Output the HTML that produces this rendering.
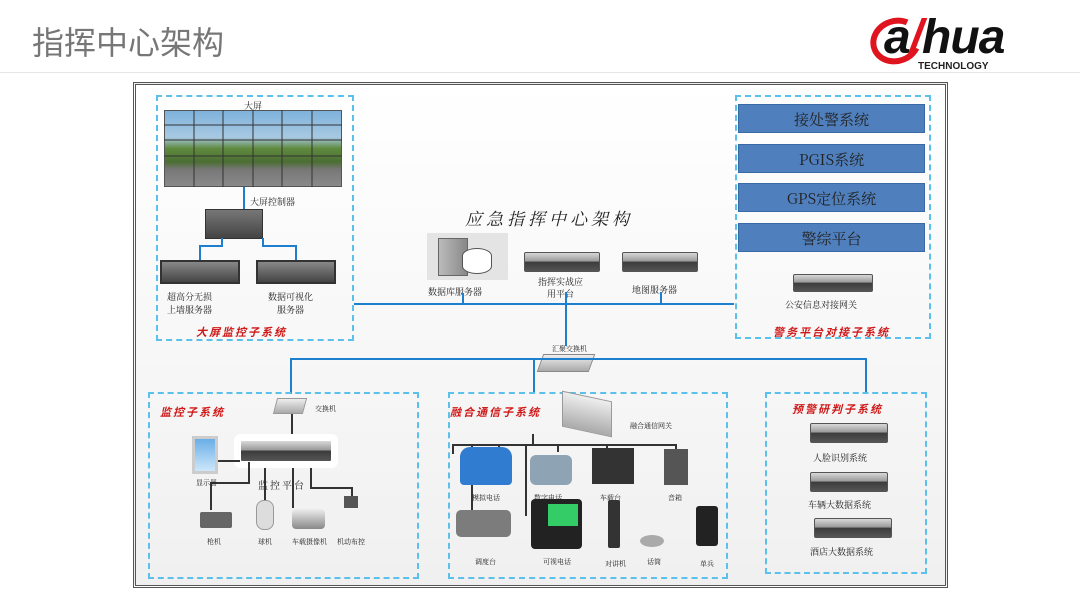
<!DOCTYPE html>
<html><head><meta charset="utf-8">
<style>
*{margin:0;padding:0;box-sizing:border-box}
body{width:1080px;height:608px;background:#fff;position:relative;overflow:hidden;font-family:"Liberation Sans","Noto Sans CJK SC",sans-serif}
.a{position:absolute}
.t{position:absolute;font-size:9px;color:#222;white-space:nowrap;font-family:"Noto Serif CJK SC","Noto Sans CJK SC",serif}
.r{position:absolute;font-size:11px;color:#d01818;font-weight:bold;white-space:nowrap;font-style:italic;letter-spacing:2px}
.dash{position:absolute;border:2px dashed #5bc0ea}
.ln{position:absolute;background:#1f7fcf}
.k{position:absolute;background:#333}
.srv{position:absolute;background:linear-gradient(#d8d8d8,#9a9a9a 45%,#3c3c3c 50%,#555);border-radius:2px;border:1px solid #555}
.bar{position:absolute;left:738px;width:187px;height:29px;background:#4f7fbd;color:#222;font-size:15px;text-align:center;line-height:29px;border:1px solid #3a6aa5;font-family:"Noto Serif CJK SC",serif}
</style></head><body>
<div class="a" style="left:32px;top:18px;font-size:32px;color:#777;font-family:'Noto Sans CJK SC',sans-serif">指挥中心架构</div>
<div class="a" style="left:0;top:72px;width:1080px;height:1px;background:#e6e6e6"></div>
<!-- logo -->
<div class="a" style="left:870px;top:18px;width:52px;height:46px;border:6px solid #e0141e;border-radius:50%;border-right-color:transparent;transform:rotate(-20deg)"></div>
<div class="a" style="left:884px;top:10px;font-size:48px;font-weight:bold;font-style:italic;color:#111;letter-spacing:-1px">a<span style="color:#e0141e">/</span>hua</div>
<div class="a" style="left:918px;top:61px;font-size:10px;font-weight:bold;color:#222">TECHNOLOGY</div>
<!-- frame -->
<div class="a" style="left:133px;top:82px;width:815px;height:506px;border:3px double #555;background:linear-gradient(#fff,#f0f0f0)"></div>

<!-- top-left box -->
<div class="dash" style="left:156px;top:95px;width:198px;height:246px"></div>
<div class="t" style="left:244px;top:99px">大屏</div>
<div class="a" style="left:164px;top:110px;width:178px;height:77px;border:1px solid #555;background:linear-gradient(#7eb2dc 0%,#a8c9e2 35%,#5f8a3e 50%,#4b6e33 68%,#777 78%,#8a8a8a 100%)"></div>
<svg class="a" style="left:164px;top:110px" width="178" height="77"><g stroke="#333" stroke-width="1"><line x1="30" y1="0" x2="30" y2="77"/><line x1="59" y1="0" x2="59" y2="77"/><line x1="89" y1="0" x2="89" y2="77"/><line x1="118" y1="0" x2="118" y2="77"/><line x1="148" y1="0" x2="148" y2="77"/><line x1="0" y1="15" x2="178" y2="15"/><line x1="0" y1="30" x2="178" y2="30"/><line x1="0" y1="46" x2="178" y2="46"/></g></svg>
<div class="ln" style="left:243px;top:187px;width:2px;height:22px"></div>
<div class="t" style="left:250px;top:195px">大屏控制器</div>
<div class="a" style="left:205px;top:209px;width:58px;height:30px;background:linear-gradient(#777,#444);border:1px solid #333"></div>
<div class="ln" style="left:221px;top:238px;width:2px;height:7px"></div><div class="ln" style="left:199px;top:245px;width:24px;height:2px"></div><div class="ln" style="left:199px;top:245px;width:2px;height:15px"></div>
<div class="ln" style="left:262px;top:238px;width:2px;height:7px"></div><div class="ln" style="left:262px;top:245px;width:35px;height:2px"></div><div class="ln" style="left:295px;top:245px;width:2px;height:15px"></div>
<div class="a" style="left:160px;top:260px;width:80px;height:24px;background:linear-gradient(#888,#444);border:2px solid #333"></div>
<div class="a" style="left:256px;top:260px;width:80px;height:24px;background:linear-gradient(#888,#444);border:2px solid #333"></div>
<div class="t" style="left:167px;top:290px;line-height:13px">超高分无损<br>上墙服务器</div>
<div class="t" style="left:268px;top:290px;line-height:13px;text-align:center">数据可视化<br>服务器</div>
<div class="r" style="left:196px;top:324px">大屏监控子系统</div>

<!-- center -->
<div class="a" style="left:465px;top:205px;font-size:17px;letter-spacing:4px;font-style:italic;font-family:'Noto Serif CJK SC',serif;color:#222">应急指挥中心架构</div>
<div class="a" style="left:427px;top:233px;width:81px;height:47px;background:#e4e4e4"></div>
<div class="a" style="left:438px;top:238px;width:30px;height:38px;background:linear-gradient(90deg,#bbb,#888);border:1px solid #666"></div>
<div class="a" style="left:462px;top:248px;width:30px;height:26px;border:1px solid #555;border-radius:50%/30%;background:#fff"></div>
<div class="t" style="left:428px;top:285px">数据库服务器</div>
<div class="srv" style="left:524px;top:252px;width:76px;height:20px"></div>
<div class="t" style="left:538px;top:276px;line-height:12px;text-align:center">指挥实战应<br>用平台</div>
<div class="srv" style="left:622px;top:252px;width:76px;height:20px"></div>
<div class="t" style="left:632px;top:283px">地图服务器</div>
<div class="ln" style="left:354px;top:303px;width:380px;height:2px"></div>
<div class="ln" style="left:462px;top:293px;width:2px;height:11px"></div>
<div class="ln" style="left:565px;top:292px;width:2px;height:54px"></div>
<div class="ln" style="left:660px;top:292px;width:2px;height:12px"></div>
<div class="t" style="left:552px;top:344px;font-size:7px">汇聚交换机</div>
<div class="a" style="left:540px;top:354px;width:52px;height:18px;background:linear-gradient(#eee,#aaa);border:1px solid #888;transform:skewX(-20deg)"></div>
<div class="ln" style="left:290px;top:358px;width:576px;height:2px"></div>
<div class="ln" style="left:290px;top:358px;width:2px;height:36px"></div>
<div class="ln" style="left:533px;top:358px;width:2px;height:36px"></div>
<div class="ln" style="left:865px;top:358px;width:2px;height:36px"></div>

<!-- right top -->
<div class="dash" style="left:735px;top:95px;width:196px;height:244px"></div>
<div class="bar" style="top:104px">接处警系统</div>
<div class="bar" style="top:144px">PGIS系统</div>
<div class="bar" style="top:183px">GPS定位系统</div>
<div class="bar" style="top:223px">警综平台</div>
<div class="srv" style="left:793px;top:274px;width:80px;height:18px"></div>
<div class="t" style="left:785px;top:298px">公安信息对接网关</div>
<div class="r" style="left:773px;top:324px">警务平台对接子系统</div>

<!-- monitoring -->
<div class="dash" style="left:148px;top:392px;width:271px;height:187px"></div>
<div class="r" style="left:160px;top:404px">监控子系统</div>
<div class="a" style="left:275px;top:398px;width:30px;height:16px;background:linear-gradient(#eee,#aaa);border:1px solid #999;transform:skewX(-15deg)"></div>
<div class="t" style="left:315px;top:404px;font-size:7px">交换机</div>
<div class="k" style="left:291px;top:414px;width:2px;height:26px"></div>
<div class="srv" style="left:240px;top:440px;width:92px;height:22px;border-color:#fff;box-shadow:0 0 0 6px #fff"></div>
<div class="a" style="left:192px;top:436px;width:26px;height:38px;background:linear-gradient(#6aaee6,#cde7fb);border:3px solid #ccc"></div>
<div class="k" style="left:218px;top:460px;width:22px;height:2px"></div>
<div class="k" style="left:248px;top:462px;width:2px;height:21px"></div><div class="k" style="left:210px;top:482px;width:40px;height:2px"></div><div class="k" style="left:210px;top:482px;width:2px;height:28px"></div>
<div class="k" style="left:264px;top:468px;width:2px;height:32px"></div>
<div class="k" style="left:292px;top:468px;width:2px;height:40px"></div>
<div class="k" style="left:310px;top:468px;width:2px;height:20px"></div><div class="k" style="left:310px;top:487px;width:42px;height:2px"></div><div class="k" style="left:351px;top:487px;width:2px;height:10px"></div>
<div class="t" style="left:196px;top:478px;font-size:7px">显示器</div>
<div class="t" style="left:258px;top:477px;font-size:10px;letter-spacing:2px">监控平台</div>
<div class="a" style="left:200px;top:512px;width:32px;height:16px;background:#666;border-radius:2px"></div>
<div class="a" style="left:256px;top:500px;width:18px;height:30px;background:#ddd;border-radius:8px;border:1px solid #999"></div>
<div class="a" style="left:292px;top:509px;width:33px;height:20px;background:linear-gradient(#eee,#888);border-radius:4px"></div>
<div class="a" style="left:344px;top:496px;width:14px;height:12px;background:#555"></div>
<div class="t" style="left:207px;top:537px;font-size:7px">枪机</div>
<div class="t" style="left:258px;top:537px;font-size:7px">球机</div>
<div class="t" style="left:292px;top:537px;font-size:7px">车载摄像机</div>
<div class="t" style="left:337px;top:537px;font-size:7px">机动布控</div>

<!-- fusion -->
<div class="dash" style="left:448px;top:392px;width:280px;height:187px"></div>
<div class="r" style="left:450px;top:404px">融合通信子系统</div>
<div class="a" style="left:562px;top:396px;width:50px;height:36px;background:linear-gradient(#eee,#aaa);border:1px solid #999;transform:skewY(12deg)"></div>
<div class="t" style="left:630px;top:421px;font-size:7px">融合通信网关</div>
<div class="k" style="left:532px;top:434px;width:2px;height:10px"></div>
<div class="k" style="left:452px;top:444px;width:224px;height:2px"></div>
<div class="k" style="left:452px;top:444px;width:2px;height:10px"></div>
<div class="k" style="left:471px;top:444px;width:2px;height:66px"></div>
<div class="k" style="left:498px;top:444px;width:2px;height:12px"></div>
<div class="k" style="left:525px;top:444px;width:2px;height:72px"></div>
<div class="k" style="left:557px;top:444px;width:2px;height:8px"></div>
<div class="k" style="left:606px;top:444px;width:2px;height:10px"></div>
<div class="k" style="left:675px;top:444px;width:2px;height:6px"></div>
<div class="a" style="left:460px;top:447px;width:52px;height:38px;background:#2f7cd0;border-radius:10px 10px 4px 4px"></div>
<div class="a" style="left:530px;top:455px;width:42px;height:30px;background:#8ea4b5;border-radius:6px"></div>
<div class="a" style="left:592px;top:448px;width:42px;height:36px;background:#333"></div>
<div class="a" style="left:664px;top:449px;width:24px;height:36px;background:#555"></div>
<div class="t" style="left:472px;top:493px;font-size:7px">模拟电话</div>
<div class="t" style="left:534px;top:493px;font-size:7px">数字电话</div>
<div class="t" style="left:600px;top:493px;font-size:7px">车载台</div>
<div class="t" style="left:668px;top:493px;font-size:7px">音箱</div>
<div class="a" style="left:456px;top:510px;width:55px;height:27px;background:#7c7c7c;border-radius:5px"></div>
<div class="a" style="left:531px;top:499px;width:51px;height:50px;background:#222;border-radius:4px"></div>
<div class="a" style="left:548px;top:504px;width:30px;height:22px;background:#3c6"></div>
<div class="a" style="left:608px;top:500px;width:12px;height:48px;background:#333;border-radius:2px"></div>
<div class="a" style="left:640px;top:535px;width:24px;height:12px;background:#aaa;border-radius:50%"></div>
<div class="a" style="left:696px;top:506px;width:22px;height:40px;background:#222;border-radius:3px"></div>
<div class="t" style="left:475px;top:557px;font-size:7px">调度台</div>
<div class="t" style="left:543px;top:557px;font-size:7px">可视电话</div>
<div class="t" style="left:605px;top:559px;font-size:7px">对讲机</div>
<div class="t" style="left:647px;top:557px;font-size:7px">话筒</div>
<div class="t" style="left:700px;top:559px;font-size:7px">单兵</div>

<!-- warning -->
<div class="dash" style="left:765px;top:392px;width:162px;height:182px"></div>
<div class="r" style="left:792px;top:401px">预警研判子系统</div>
<div class="srv" style="left:810px;top:423px;width:78px;height:20px"></div>
<div class="t" style="left:813px;top:451px">人脸识别系统</div>
<div class="srv" style="left:810px;top:472px;width:78px;height:20px"></div>
<div class="t" style="left:808px;top:498px">车辆大数据系统</div>
<div class="srv" style="left:814px;top:518px;width:78px;height:20px"></div>
<div class="t" style="left:810px;top:545px">酒店大数据系统</div>
</body></html>
